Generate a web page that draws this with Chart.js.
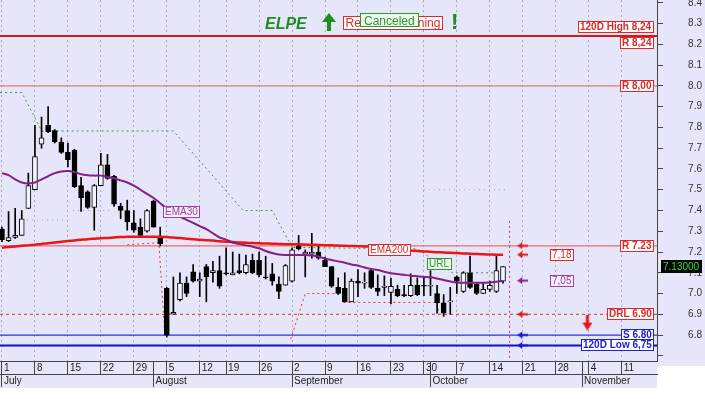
<!DOCTYPE html>
<html>
<head>
<meta charset="utf-8">
<script src="https://cdn.jsdelivr.net/npm/chart.js@4.4.0/dist/chart.umd.min.js"></script>
<style>
  html, body { margin: 0; padding: 0; background: #fff; }
</style>
</head>
<body>
<canvas id="chart" width="705" height="399"></canvas>
<script>
// ELPE daily candles, trading days from 1 Jul 2013 (index 0) to 16 Oct 2013
const opens = [7.31, 7.255, 7.27, 7.28, 7.41, 7.50, 7.72, 7.81, 7.785, 7.73,
  7.68, 7.69, 7.52, 7.49, 7.415, 7.52, 7.62, 7.565, 7.42, 7.40,
  7.34, 7.32, 7.30, 7.445, 7.27, 7.025, 6.90, 6.97, 7.05, 7.105,
  7.06, 7.13, 7.10, 7.11, 7.10, 7.09, 7.11, 7.10, 7.16, 7.16,
  7.08, 7.095, 7.045, 7.04, 7.06, 7.23, 7.19, 7.19, 7.20, 7.16,
  7.13, 7.03, 7.025, 6.96, 7.06, 7.05, 7.11, 7.025, 7.03, 7.005,
  7.02, 6.995, 6.99, 7.04, 7.04, 7.035, 7.00, 6.955, 6.96, 7.08,
  7.01, 7.10, 7.045, 7.00, 7.02, 7.01, 7.06]
const highs = [7.32, 7.395, 7.41, 7.40, 7.58, 7.81, 7.85, 7.90, 7.79, 7.75,
  7.725, 7.695, 7.56, 7.495, 7.525, 7.675, 7.67, 7.57, 7.435, 7.45,
  7.40, 7.36, 7.405, 7.45, 7.32, 7.03, 7.08, 7.10, 7.08, 7.14,
  7.10, 7.14, 7.155, 7.18, 7.22, 7.20, 7.19, 7.185, 7.19, 7.20,
  7.18, 7.145, 7.08, 7.14, 7.22, 7.28, 7.21, 7.29, 7.235, 7.175,
  7.13, 7.075, 7.10, 7.07, 7.115, 7.10, 7.12, 7.09, 7.085, 7.075,
  7.04, 7.04, 7.095, 7.075, 7.08, 7.11, 7.04, 6.995, 7.03, 7.085,
  7.105, 7.18, 7.05, 7.05, 7.06, 7.18, 7.13]
const lows = [7.25, 7.25, 7.265, 7.28, 7.41, 7.50, 7.70, 7.775, 7.725, 7.675,
  7.61, 7.51, 7.395, 7.41, 7.305, 7.52, 7.55, 7.42, 7.36, 7.305,
  7.295, 7.275, 7.295, 7.32, 7.23, 6.79, 6.90, 6.965, 6.985, 7.055,
  6.985, 6.96, 7.055, 7.025, 7.09, 7.09, 7.095, 7.095, 7.095, 7.08,
  7.07, 7.04, 6.975, 7.04, 7.055, 7.21, 7.08, 7.17, 7.165, 7.13,
  7.03, 6.995, 6.96, 6.96, 6.985, 7.025, 7.025, 6.99, 6.99, 6.95,
  6.985, 6.985, 6.985, 6.99, 6.99, 6.99, 6.905, 6.89, 6.90, 7.00,
  7.005, 7.025, 6.995, 7.00, 7.01, 7.005, 7.05]
const closes = [7.26, 7.27, 7.28, 7.36, 7.52, 7.66, 7.75, 7.78, 7.73, 7.68,
  7.645, 7.515, 7.46, 7.415, 7.52, 7.62, 7.555, 7.43, 7.40, 7.345,
  7.305, 7.28, 7.40, 7.32, 7.24, 6.80, 6.91, 7.05, 7.00, 7.06,
  7.07, 7.08, 7.11, 7.035, 7.095, 7.10, 7.10, 7.14, 7.10, 7.09,
  7.075, 7.06, 7.01, 7.135, 7.21, 7.215, 7.20, 7.20, 7.17, 7.13,
  7.035, 7.00, 6.96, 7.06, 7.05, 7.055, 7.03, 7.01, 7.035, 7.035,
  6.99, 6.99, 7.04, 6.995, 7.035, 7.04, 6.955, 6.905, 6.965, 7.06,
  7.10, 7.03, 7.00, 7.02, 7.04, 7.11, 7.13]

const ema30 = [7.58, 7.57, 7.55, 7.535, 7.53, 7.535, 7.55, 7.565, 7.58, 7.588,
  7.59, 7.585, 7.575, 7.57, 7.568, 7.568, 7.562, 7.555, 7.545, 7.535,
  7.52, 7.50, 7.48, 7.46, 7.435, 7.41, 7.39, 7.37, 7.355, 7.34,
  7.325, 7.31, 7.29, 7.27, 7.26, 7.245, 7.238, 7.232, 7.226, 7.218,
  7.205, 7.195, 7.188, 7.186, 7.186, 7.186, 7.186, 7.183, 7.178, 7.168,
  7.162, 7.155, 7.148, 7.14, 7.135, 7.125, 7.118, 7.113, 7.105, 7.098,
  7.094, 7.09, 7.086, 7.083, 7.08, 7.078, 7.072, 7.065, 7.058, 7.053,
  7.052, 7.052, 7.052, 7.052, 7.053, 7.057, 7.062]
const ema200 = [7.221, 7.224, 7.227, 7.23, 7.232, 7.235, 7.239, 7.242, 7.246, 7.25,
  7.253, 7.256, 7.259, 7.262, 7.264, 7.266, 7.268, 7.27, 7.272, 7.273,
  7.274, 7.274, 7.274, 7.274, 7.274, 7.272, 7.27, 7.267, 7.264, 7.262,
  7.259, 7.257, 7.255, 7.252, 7.25, 7.248, 7.246, 7.245, 7.243, 7.242,
  7.241, 7.24, 7.239, 7.238, 7.238, 7.237, 7.236, 7.235, 7.234, 7.233,
  7.232, 7.231, 7.23, 7.229, 7.228, 7.227, 7.226, 7.225, 7.222, 7.219,
  7.215, 7.211, 7.207, 7.205, 7.203, 7.201, 7.199, 7.198, 7.196, 7.195,
  7.193, 7.192, 7.19, 7.189, 7.188, 7.187, 7.187]

// trailing stop traces (x = trading day index, null = gap)
const urlStopX = [-0.3, 3, 5.3, 6, 26, 36.6, 41, 44, 63, 68.3, 76.5]
const urlStopY = [7.968, 7.968, 7.828, 7.783, 7.783, 7.40, 7.40, 7.222, 7.215, 7.10, 7.10]
const drlStopX = [19, 23.8, 24.7, 30, 43.8, 46, 51.8, 51.8, 66, 66.3]
const drlStopY = [7.235, 7.245, 6.80, null, 6.78, 7.00, 7.00, 6.957, 6.957, 6.90]
const greyDotX = [3.8, 9.9, 10.3, 10.8, 16.4, 30, 64, 76.5]
const greyDotY = [7.354, 7.354, null, 7.40, 7.40, null, 7.50, 7.50]
const cursorX = [77, 77]
const cursorY = [7.35, 6.68]

// support / resistance levels
const levelValues = [8.24, 8.00, 7.23, 6.90, 6.80, 6.75]
const tagTexts = ["120D High 8,24", "R 8,24", "R 8,00", "R 7.23", "DRL 6.90", "S 6.80", "120D Low 6,75"]
const tagValues = [8.24, 8.24, 8.00, 7.23, 6.90, 6.80, 6.75]

// axis ticks
const weekTickIndex = [0, 5, 10, 15, 20, 25, 30, 34, 39, 44, 49, 54, 59, 64, 69, 74, 79, 84, 89, 94]
const weekTickDays = [1, 8, 15, 22, 29, 5, 12, 19, 26, 2, 9, 16, 23, 30, 7, 14, 21, 28, 4, 11]
const monthStartIndex = [0, 23, 44, 65, 88]
const monthNames = ["July", "August", "September", "October", "November"]
const yTicks = [6.7, 6.8, 6.9, 7.0, 7.1, 7.2, 7.3, 7.4, 7.5, 7.6, 7.7, 7.8, 7.9, 8.0, 8.1, 8.2, 8.3, 8.4]
const yTickLabels = ["", "6.8", "6.9", "7.0", "7.1", "7.2", "7.3", "7.4", "7.5", "7.6", "7.7", "7.8", "7.9", "8.0", "8.1", "8.2", "8.3", "8.4"]

const xMin = -0.3
const xMax = 99.36
const yMin = 6.675
const yMax = 8.414
const arrowIndex = 79
const noteIndex = 84.9

const FONT = "'Liberation Sans', Arial, sans-serif"
const LAVENDER = "#e6e6fa"
const HOLLOW = "#f3f3fd"

Chart.defaults.font.family = FONT

const days = opens.map((_, i) => i)
const last = days.length - 1

function makeArrow(color, dir) {
  const c = document.createElement("canvas")
  c.width = dir === "left" ? 11 : 10
  c.height = dir === "left" ? 7 : 16
  const g = c.getContext("2d")
  g.fillStyle = color
  g.beginPath()
  if (dir === "left") {
    g.moveTo(0, 3.5)
    g.lineTo(5, 0)
    g.lineTo(5, 7)
    g.closePath()
    g.fill()
    g.fillRect(4, 2.5, 7, 2)
  } else {
    g.fillRect(3.5, 0, 3, 9)
    g.moveTo(0, 8)
    g.lineTo(10, 8)
    g.lineTo(5, 16)
    g.closePath()
    g.fill()
  }
  return c
}

function pointsFrom(xs, ys) {
  return xs.map((x, i) => ({ x, y: ys[i] }))
}

function levelLine(value, color, width, dash) {
  return {
    type: "line",
    data: [{ x: xMin, y: value }, { x: xMax, y: value }],
    borderColor: color,
    borderWidth: width,
    borderDash: dash || [],
    pointRadius: 0,
    order: 10,
  }
}

function dottedLine(data, color, dash, order) {
  return {
    type: "line",
    data,
    borderColor: color,
    borderWidth: 1,
    borderDash: dash,
    pointRadius: 0,
    spanGaps: false,
    order,
  }
}

function drawTag(ctx, text, x, y, s) {
  ctx.font = s.font
  const w = Math.ceil(ctx.measureText(text).width) + 2 * s.pad
  const h = s.h || 12
  let left = x - w / 2
  if (s.anchor === "right") left = x - w
  if (s.anchor === "left") left = x
  left = Math.round(left)
  const top = Math.round(y - h / 2)
  ctx.fillStyle = s.fill
  ctx.fillRect(left, top, w, h)
  if (s.border) {
    ctx.strokeStyle = s.border
    ctx.lineWidth = 1
    ctx.strokeRect(left + 0.5, top + 0.5, w - 1, h - 1)
  }
  ctx.fillStyle = s.color
  ctx.textAlign = "left"
  ctx.textBaseline = "middle"
  ctx.fillText(text, left + s.pad, top + h / 2 + 0.5)
}

function drawTitle(ctx) {
  const green = "#1f8c1f"
  ctx.textAlign = "left"
  ctx.textBaseline = "alphabetic"
  ctx.fillStyle = green
  ctx.font = "italic bold 16px " + FONT
  ctx.fillText("ELPE", 265, 29)

  ctx.beginPath()
  ctx.moveTo(322, 22)
  ctx.lineTo(329, 13)
  ctx.lineTo(336, 22)
  ctx.closePath()
  ctx.fill()
  ctx.fillRect(327, 21, 4, 10)

  // warning text, mostly hidden under the "Canceled" tag
  ctx.font = "12px " + FONT
  ctx.fillStyle = "#ffffff"
  ctx.fillRect(343, 16, 100, 14)
  ctx.strokeStyle = "#e02828"
  ctx.lineWidth = 1
  ctx.strokeRect(343.5, 16.5, 99, 13)
  ctx.fillStyle = "#e02828"
  ctx.fillText("Reversal Warning", 345.5, 27)

  ctx.fillStyle = "#eef7ee"
  ctx.fillRect(360, 13, 59, 14)
  ctx.strokeStyle = "#2a9a2a"
  ctx.strokeRect(360.5, 13.5, 58, 13)
  ctx.fillStyle = "#2a9a2a"
  ctx.fillText("Canceled", 364, 24.5)

  ctx.fillStyle = green
  ctx.font = "bold 22px " + FONT
  ctx.fillText("!", 451, 29)
}

const backgroundPlugin = {
  id: "background",
  beforeDraw(chart) {
    const ctx = chart.ctx
    ctx.save()
    ctx.fillStyle = "#ffffff"
    ctx.fillRect(0, 0, chart.width, chart.height)
    ctx.fillStyle = LAVENDER
    ctx.fillRect(0, 0, chart.width, 366)
    ctx.fillRect(0, 366, chart.chartArea.right, 22)
    ctx.restore()
  },
}

const tagsPlugin = {
  id: "tags",
  afterDraw(chart) {
    const ctx = chart.ctx
    const xs = chart.scales.x
    const ys = chart.scales.y
    const right = chart.chartArea.right - 3
    const red = { font: "bold 10px " + FONT, pad: 2, fill: "#ffffff", border: "#e02828", color: "#e02828", anchor: "right" }
    const blue = { font: "bold 10px " + FONT, pad: 2, fill: "#ffffff", border: "#2020d0", color: "#2020d0", anchor: "right" }
    const tagStyles = [red, red, red, red, red, blue, blue]
    const tagShift = [-9, 7, 0, 0, 0, 0, 0]
    ctx.save()
    tagTexts.forEach((t, k) => {
      drawTag(ctx, t, right, ys.getPixelForValue(tagValues[k]) + tagShift[k], tagStyles[k])
    })

    const plain = { font: "10px " + FONT, pad: 2, h: 12 }
    drawTag(ctx, "EMA30", xs.getPixelForValue(27.2), ys.getPixelForValue(7.393),
      { ...plain, fill: "#f6f0fa", border: "#a040a0", color: "#a040a0" })
    drawTag(ctx, "EMA200", xs.getPixelForValue(58.8), ys.getPixelForValue(7.21),
      { ...plain, fill: "#ffffff", border: "#e02828", color: "#e02828" })
    drawTag(ctx, "URL", xs.getPixelForValue(66.4), ys.getPixelForValue(7.14),
      { ...plain, fill: "#eef8ee", border: "#2a9a2a", color: "#2a9a2a" })
    drawTag(ctx, "7,18", xs.getPixelForValue(noteIndex), ys.getPixelForValue(ema200[last]),
      { ...plain, fill: "#ffffff", border: "#e02828", color: "#e02828" })
    drawTag(ctx, "7,05", xs.getPixelForValue(noteIndex), ys.getPixelForValue(ema30[last]),
      { ...plain, fill: "#f6f0fa", border: "#a040a0", color: "#a040a0" })

    drawTag(ctx, closes[last].toFixed(5), chart.chartArea.right + 4, ys.getPixelForValue(closes[last]),
      { font: "10px " + FONT, pad: 2, h: 13, fill: "#050505", color: "#33dd33", anchor: "left" })

    drawTitle(ctx)
    ctx.restore()
  },
}

const leftRed = makeArrow("#e01818", "left")
const leftPurple = makeArrow("#8a208a", "left")
const leftBlue = makeArrow("#1818d0", "left")
const downRed = makeArrow("#e01818", "down")

const datasets = [
  levelLine(levelValues[0], "#d81818", 2),
  levelLine(levelValues[1], "#f05a5a", 1),
  levelLine(levelValues[2], "#f06a6a", 1.2),
  levelLine(levelValues[3], "#e03030", 1, [3, 3]),
  levelLine(levelValues[4], "#3030e0", 1.3),
  levelLine(levelValues[5], "#1010c8", 2),
  dottedLine(pointsFrom(greyDotX, greyDotY), "#9aa39a", [1, 4], 9),
  dottedLine(pointsFrom(urlStopX, urlStopY), "#3a9a3a", [2, 3], 8),
  dottedLine(pointsFrom(drlStopX, drlStopY), "#e03838", [2, 3], 8),
  dottedLine(pointsFrom(cursorX, cursorY), "#c03080", [2, 3], 8),
  {
    type: "bar",
    data: days.map((i) => ({ x: i, y: [lows[i], highs[i]] })),
    backgroundColor: "#000000",
    barThickness: 1,
    grouped: false,
    order: 5,
  },
  {
    type: "bar",
    data: days.map((i) => ({ x: i, y: [Math.min(opens[i], closes[i]), Math.max(opens[i], closes[i])] })),
    backgroundColor: days.map((i) => (closes[i] >= opens[i] ? HOLLOW : "#000000")),
    borderColor: "#000000",
    borderWidth: 1,
    borderSkipped: false,
    barThickness: 5,
    grouped: false,
    order: 4,
  },
  {
    type: "line",
    data: days.map((i) => ({ x: i, y: ema200[i] })),
    borderColor: "#ee1414",
    borderWidth: 2.5,
    pointRadius: 0,
    tension: 0.3,
    order: 3,
  },
  {
    type: "line",
    data: days.map((i) => ({ x: i, y: ema30[i] })),
    borderColor: "#851e85",
    borderWidth: 2,
    pointRadius: 0,
    tension: 0.3,
    order: 2,
  },
  {
    type: "scatter",
    data: [
      { x: arrowIndex, y: levelValues[2] },
      { x: arrowIndex, y: ema200[last] },
      { x: arrowIndex, y: ema30[last] },
      { x: arrowIndex, y: levelValues[3] },
      { x: arrowIndex, y: levelValues[4] },
      { x: arrowIndex, y: levelValues[5] },
      { x: 88.8, y: 6.86 },
    ],
    pointStyle: [leftRed, leftRed, leftPurple, leftRed, leftBlue, leftBlue, downRed],
    pointRadius: 5,
    order: 1,
  },
]

new Chart(document.getElementById("chart"), {
  type: "line",
  data: { datasets },
  options: {
    responsive: false,
    animation: false,
    devicePixelRatio: 1,
    events: [],
    layout: { autoPadding: false, padding: { left: 0, top: 0, right: 3, bottom: 12 } },
    plugins: {
      legend: { display: false },
      tooltip: { enabled: false },
    },
    scales: {
      x: {
        type: "linear",
        position: "bottom",
        weight: 0,
        min: xMin,
        max: xMax,
        offset: false,
        afterBuildTicks: (scale) => {
          const values = [...new Set([...weekTickIndex, ...monthStartIndex])].sort((a, b) => a - b)
          scale.ticks = values.map((v) => ({ value: v }))
        },
        afterFit: (scale) => {
          scale.height = 13
        },
        ticks: {
          autoSkip: false,
          maxRotation: 0,
          minRotation: 0,
          align: "start",
          padding: -12,
          labelOffset: 2,
          color: "#222",
          font: { size: 10 },
          callback: (value) => {
            const k = weekTickIndex.indexOf(value)
            return k >= 0 ? String(weekTickDays[k]) : ""
          },
        },
        grid: {
          offset: false,
          color: (c) => (c.tick && weekTickIndex.includes(c.tick.value) ? "#a9abbd" : "rgba(0,0,0,0)"),
          lineWidth: 1,
          drawTicks: true,
          tickLength: 13,
          tickColor: "#444",
          tickWidth: 1,
          tickBorderDash: [],
        },
        border: { display: true, color: "#444", width: 1, dash: [2, 3] },
      },
      xm: {
        type: "linear",
        axis: "x",
        position: "bottom",
        weight: 1,
        min: xMin,
        max: xMax,
        offset: false,
        afterBuildTicks: (scale) => {
          scale.ticks = monthStartIndex.map((v) => ({ value: v }))
        },
        afterFit: (scale) => {
          scale.height = 13
        },
        ticks: {
          autoSkip: false,
          maxRotation: 0,
          minRotation: 0,
          align: "start",
          padding: -12,
          labelOffset: 2,
          color: "#222",
          font: { size: 10 },
          callback: (value) => monthNames[monthStartIndex.indexOf(value)],
        },
        grid: { offset: false, drawOnChartArea: false, drawTicks: true, tickLength: 13, tickColor: "#444" },
        border: { display: true, color: "#444", width: 1 },
      },
      y: {
        type: "linear",
        position: "right",
        min: yMin,
        max: yMax,
        beginAtZero: false,
        afterBuildTicks: (scale) => {
          scale.ticks = yTicks.map((v) => ({ value: v }))
        },
        afterFit: (scale) => {
          scale.width = 45
        },
        ticks: {
          autoSkip: false,
          crossAlign: "far",
          padding: -8,
          color: "#333",
          font: { size: 10 },
          callback: (value) => yTickLabels[yTicks.indexOf(value)],
        },
        grid: { drawOnChartArea: false, drawTicks: true, tickLength: 6, tickColor: "#444" },
        border: { display: true, color: "#444", width: 1 },
      },
    },
  },
  plugins: [backgroundPlugin, tagsPlugin],
})
</script>
</body>
</html>
